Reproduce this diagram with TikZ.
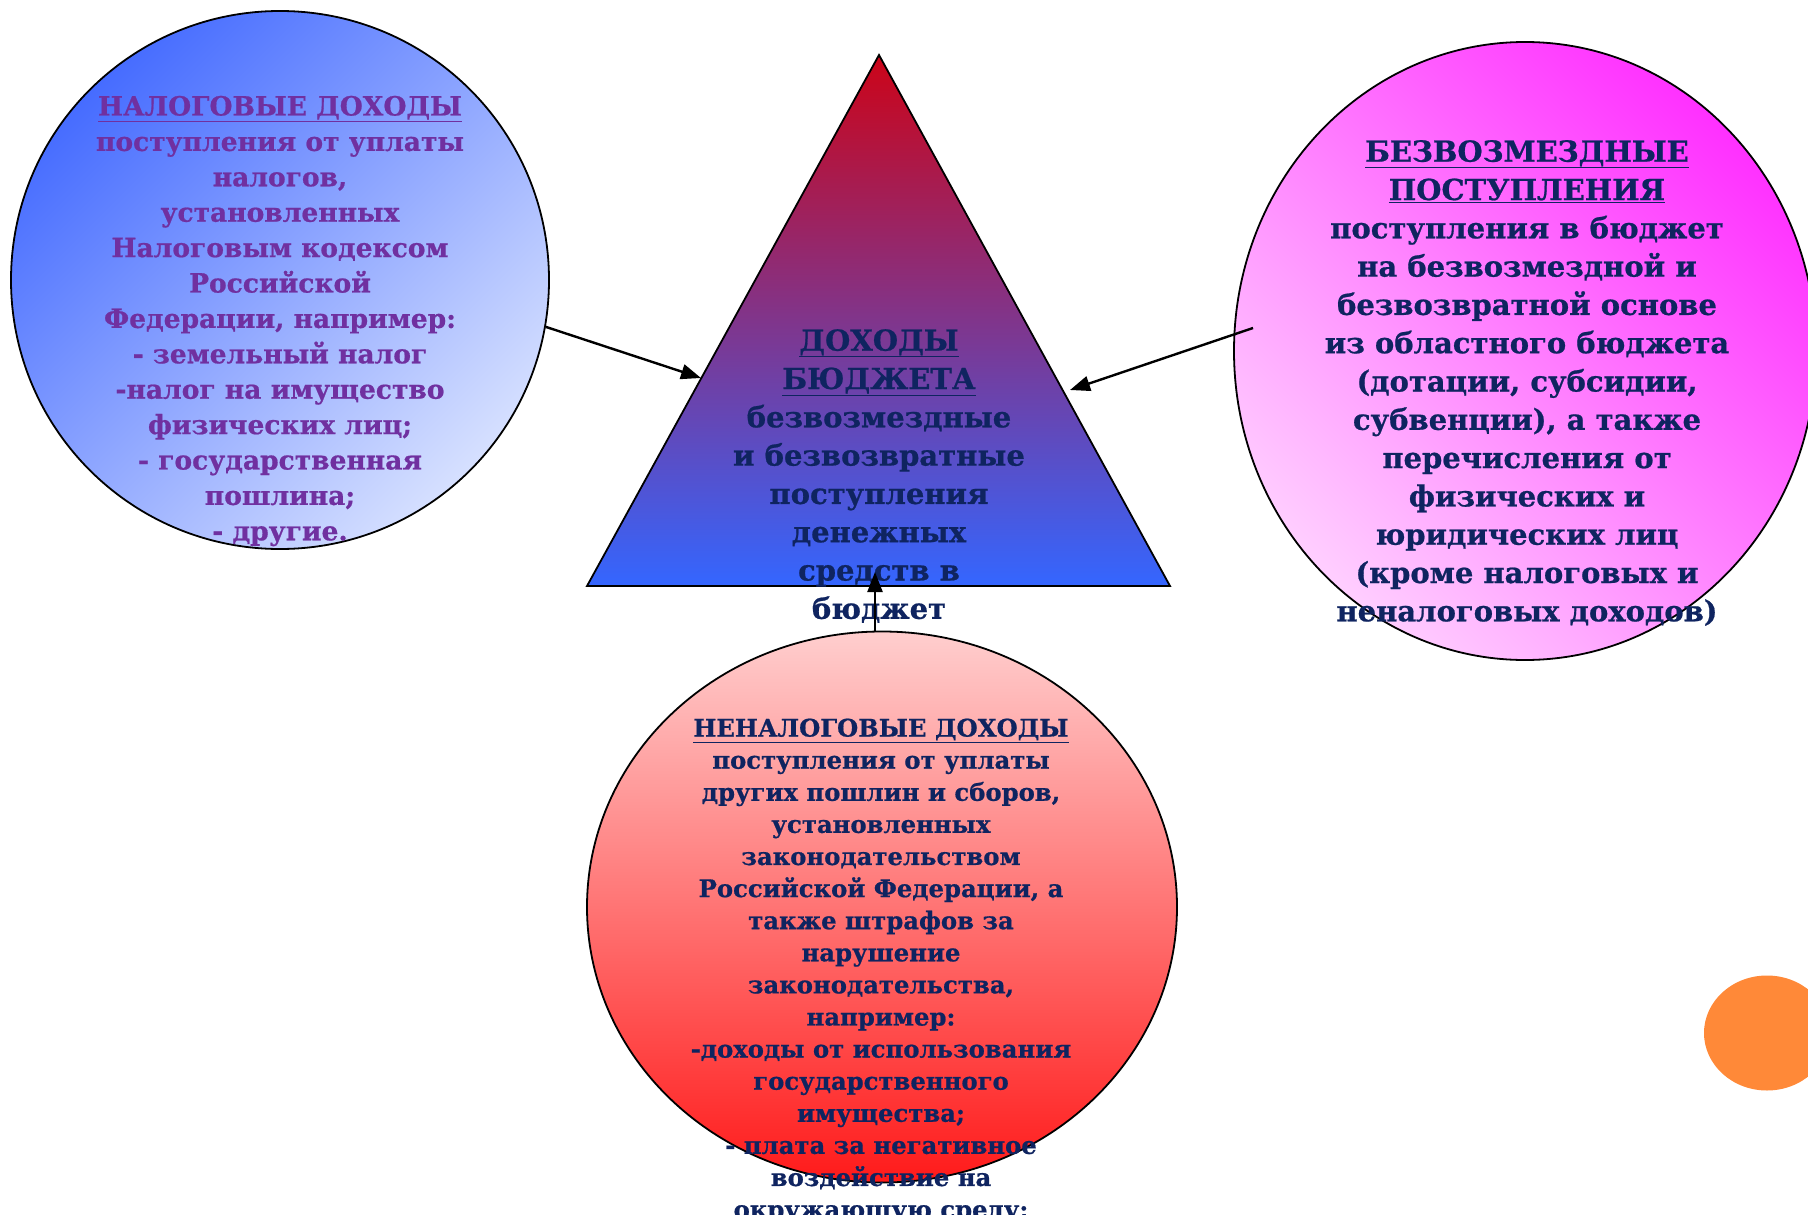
\documentclass[tikz,border=0pt]{standalone}
\usepackage{fontspec}
\setmainfont[BoldFeatures={FakeBold=0.7}]{DejaVu Serif}
\usetikzlibrary{shapes.geometric,arrows.meta}
\definecolor{purp}{RGB}{112,48,160}
\definecolor{navy}{RGB}{15,36,96}
\definecolor{lcA}{RGB}{70,108,255}
\definecolor{lcB}{RGB}{214,224,255}
\definecolor{rcA}{RGB}{255,48,255}
\definecolor{rcB}{RGB}{255,206,255}
\definecolor{bcA}{RGB}{255,206,206}
\definecolor{bcB}{RGB}{255,26,26}
\definecolor{trA}{RGB}{204,4,24}
\definecolor{trM}{RGB}{158,86,210}
\definecolor{trB}{RGB}{52,102,255}
\definecolor{orng}{RGB}{255,137,56}
\begin{document}
\begin{tikzpicture}[x=1pt,y=-1pt,
  ell/.style={ellipse,draw=black,line width=1.8pt,inner sep=0pt},
  txt/.style={align=center,inner sep=0pt,font=\bfseries},
  arr/.style={line width=2.4pt,-{Triangle[length=20pt,width=15pt]}}]
\path[use as bounding box] (0,0) rectangle (1808,1215);
\clip (0,0) rectangle (1808,1215);
\fill[white] (0,0) rectangle (1808,1215);

% shapes
\node[ell,minimum width=538pt,minimum height=538pt,top color=lcA,bottom color=lcB,shading angle=45] (lc) at (280,280) {};
\node[ell,minimum width=582pt,minimum height=618pt,top color=rcA,bottom color=rcB,shading angle=-45] (rc) at (1525,351) {};
\node[ell,minimum width=590pt,minimum height=551pt,top color=bcA,bottom color=bcB] (bc) at (882,907) {};
\node[ellipse,fill=orng,inner sep=0pt,minimum width=126pt,minimum height=115pt] (oc) at (1767,1033) {};
\coordinate (apex) at (879,55);
\coordinate (bl) at (587,586);
\coordinate (br) at (1170,586);
\draw[line width=1.8pt,top color=trA,middle color=trM,bottom color=trB] (apex) -- (br) -- (bl) -- cycle;

% texts
\node[txt,text=purp,font=\bfseries\fontsize{26.5}{35.4}\selectfont] (lt) at (280,321) {\underline{НАЛОГОВЫЕ ДОХОДЫ}\\поступления от уплаты\\налогов,\\установленных\\Налоговым кодексом\\Российской\\Федерации, например:\\- земельный налог\\-налог на имущество\\физических лиц;\\- государственная\\пошлина;\\- другие.};
\node[txt,text=navy,font=\bfseries\fontsize{29}{38.3}\selectfont] (tt) at (879,476) {\underline{ДОХОДЫ}\\\underline{БЮДЖЕТА}\\безвозмездные\\и безвозвратные\\поступления\\денежных\\средств в\\бюджет};
\node[txt,text=navy,font=\bfseries\fontsize{29}{38.3}\selectfont] (rt) at (1527,383) {\underline{БЕЗВОЗМЕЗДНЫЕ}\\\underline{ПОСТУПЛЕНИЯ}\\поступления в бюджет\\на безвозмездной и\\безвозвратной основе\\из областного бюджета\\(дотации, субсидии,\\субвенции), а также\\перечисления от\\физических и\\юридических лиц\\(кроме налоговых и\\неналоговых доходов)};
\node[txt,text=navy,font=\bfseries\fontsize{24.3}{32.1}\selectfont] (bt) at (881,971) {\underline{НЕНАЛОГОВЫЕ ДОХОДЫ}\\поступления от уплаты\\других пошлин и сборов,\\установленных\\законодательством\\Российской Федерации, а\\также штрафов за\\нарушение\\законодательства,\\например:\\-доходы от использования\\государственного\\имущества;\\- плата за негативное\\воздействие на\\окружающую среду;};

% connectors
\coordinate (tl) at (701,378);
\coordinate (tr) at (1070,390);
\coordinate (tb) at (875,572);
\coordinate (rs) at (1253,328);
\draw[arr] (lc.-10) -- (tl);
\draw[arr] (rs) -- (tr);
\draw[arr] ([xshift=-7pt]bc.north) -- (tb);
\end{tikzpicture}
\end{document}
